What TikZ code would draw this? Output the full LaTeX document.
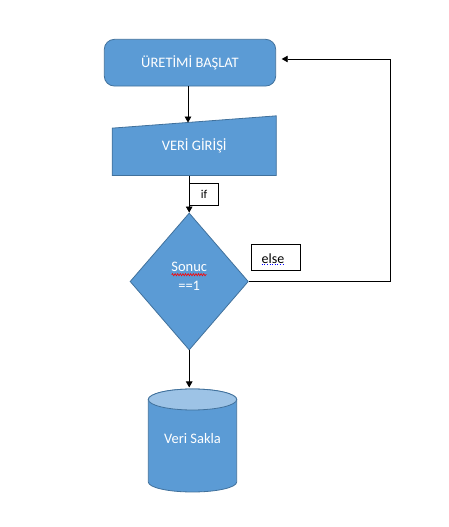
\documentclass[tikz,border=0pt]{standalone}
\usepackage{fontspec}
\setmainfont{Carlito}
\usetikzlibrary{shapes.geometric,arrows.meta,decorations.pathmorphing,calc}
\definecolor{fillblue}{RGB}{91,155,213}
\definecolor{edgeblue}{RGB}{65,113,156}
\definecolor{topblue}{RGB}{157,195,230}
\begin{document}
\begin{tikzpicture}[x=1pt,y=1pt,
  shapebox/.style={fill=fillblue, draw=edgeblue, line width=0.8pt},
  wtext/.style={text=white, font=\fontsize{14.5}{19.3}\selectfont},
  arr/.style={-{Triangle[length=6pt,width=6.5pt]}, line width=0.8pt, black},
  lbl/.style={draw=black, line width=0.8pt, fill=white, inner sep=0pt}
]
\useasboundingbox (0,0) rectangle (449,527);
% start
\node[shapebox, rounded corners=10pt, minimum width=171.4pt, minimum height=46.7pt, inner sep=0pt, wtext] (start) at (190,464.3) {ÜRETİMİ BAŞLAT};
% manual input
\node[minimum width=163.7pt, minimum height=59.3pt, inner sep=0pt] (input) at (194.2,381.3) {};
\draw[shapebox] (input.south west) -- (input.south east) -- (input.north east) -- ([yshift=-12.3pt]input.north west) -- cycle;
\node[wtext] (inputtext) at (input.center) {VERİ GİRİŞİ};
% decision
\node[diamond, shapebox, minimum width=118.3pt, minimum height=137pt, inner sep=0pt] (dec) at (189.2,245.5) {};
\node[wtext, align=center] (dectext) at (189.2,250.6) {Sonuc\\==1};
\draw[red, line width=0.6pt, decorate, decoration={snake, segment length=2.6pt, amplitude=1.1pt}] (171.7,252.3) -- (206.7,252.3);
% cylinder
\node[minimum width=88.4pt, minimum height=103pt, inner sep=0pt] (cyl) at (192.5,86.5) {};
\draw[shapebox] (148.3,127.5) -- (148.3,45) arc[start angle=180, end angle=360, x radius=44.2pt, y radius=10pt] -- (236.7,127.5) arc[start angle=0, end angle=180, x radius=44.2pt, y radius=10.5pt] -- cycle;
\draw[fill=topblue, draw=edgeblue, line width=0.8pt] (192.5,127.5) ellipse[x radius=44.2pt, y radius=10.5pt];
\node[wtext] (cyltext) at (192.5,88) {Veri Sakla};
% labels
\node[lbl, minimum width=29.4pt, minimum height=22pt, font=\fontsize{12}{14}\selectfont] (ifbox) at (204,332.7) {if};
\node[lbl, minimum width=48.6pt, minimum height=26pt] (elsebox) at (276,269.7) {};
\node[font=\fontsize{14}{17}\selectfont, inner sep=0pt] (elsetext) at (273,268.5) {else};
\draw[blue, dotted, line width=0.6pt] (261.7,262.3) -- (285,262.3);
% connectors
\coordinate (inTop) at (188,404.4);
\coordinate (cylTop) at (189.2,139.5);
\coordinate (rc) at (390.7,468);
\coordinate (retEnd) at (281.7,468);
\draw[arr] ([xshift=-2pt]start.south) -- (inTop);
\draw[arr] (dec.north |- input.south) -- (dec.north);
\draw[arr] (dec.south) -- (cylTop);
\draw[arr] (dec.east) -| (rc) -- (retEnd);
\end{tikzpicture}
\end{document}
